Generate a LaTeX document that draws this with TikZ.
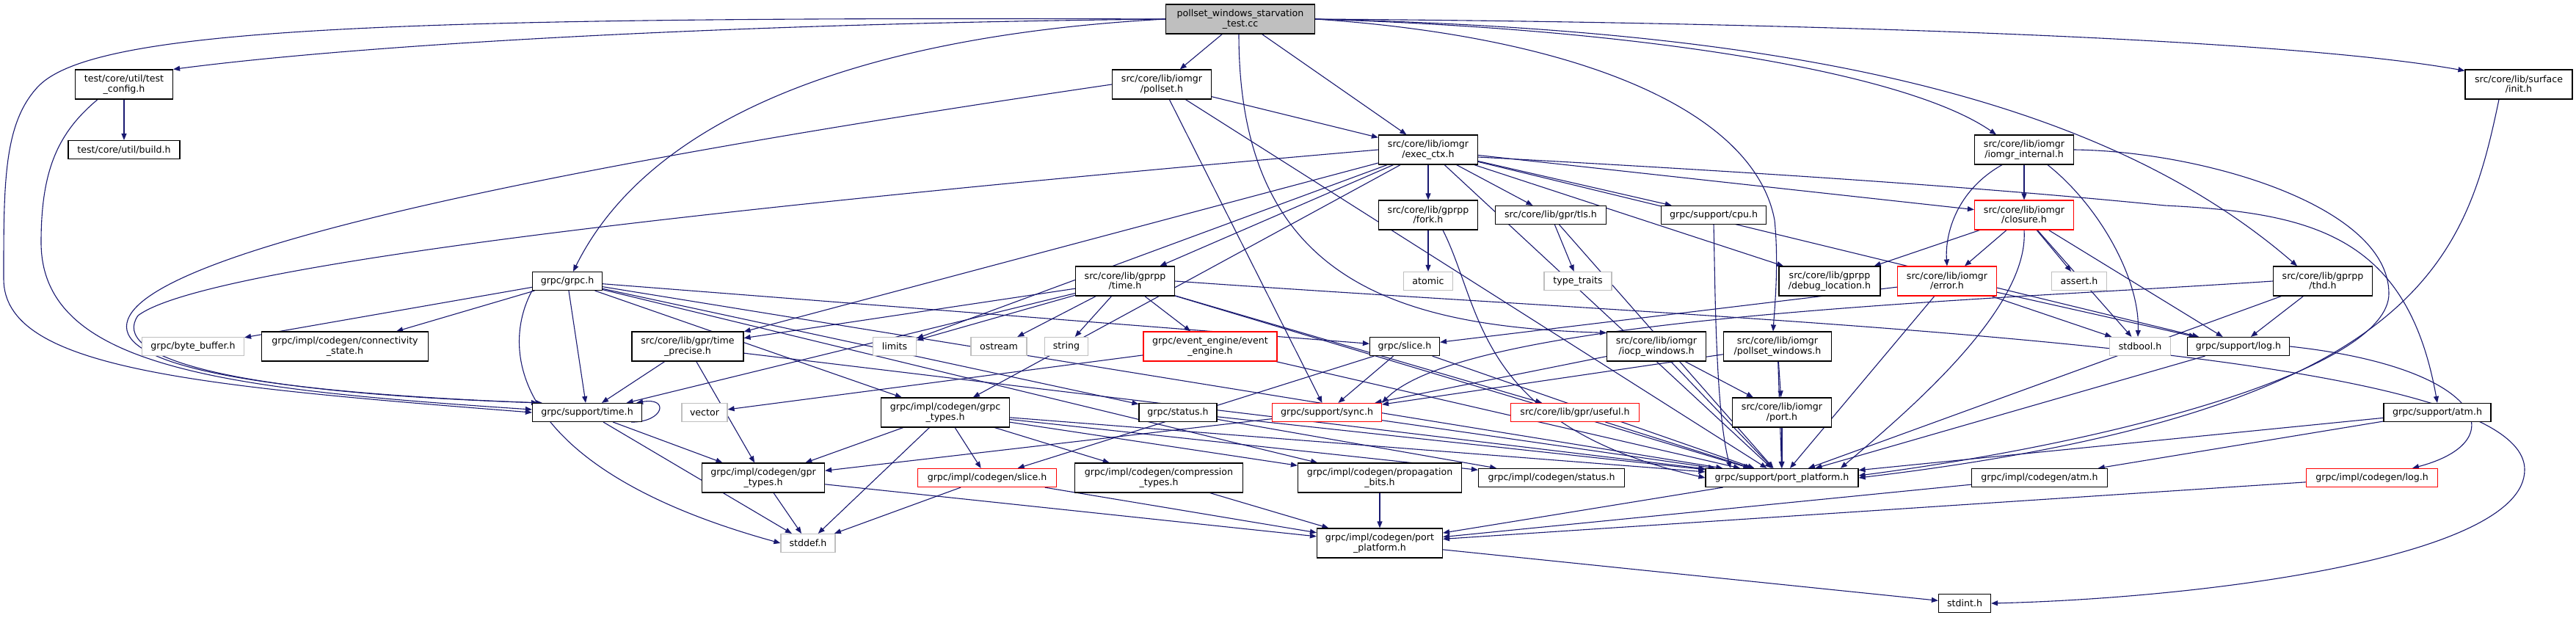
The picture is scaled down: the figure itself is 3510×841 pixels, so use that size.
\documentclass[tikz,border=0pt]{standalone}
\usepackage{fontspec}
\setmainfont{DejaVu Sans}
\usetikzlibrary{arrows.meta}
\definecolor{edgeblue}{HTML}{191970}
\definecolor{sysgray}{HTML}{BFBFBF}
\pgfdeclarelayer{bg}
\pgfsetlayers{bg,main}
\begin{document}
\begin{tikzpicture}[x=1pt,y=-1pt,
    hfile/.style={draw=black, line width=1.2pt, fill=white, minimum height=25pt,
      inner sep=1pt, align=center, font=\fontsize{12.6}{13.4}\selectfont},
    two/.style={minimum height=40pt},
    hred/.style={hfile, draw=red},
    hsys/.style={hfile, draw=sysgray},
    dep/.style={draw=edgeblue, line width=1.1pt, -{Triangle[length=9pt,width=7pt]}}]
    \useasboundingbox (0,0) rectangle (3510,841);

    % top rows
    \node[hfile, two, fill=sysgray, minimum width=203pt] (root) at (1690,26) {pollset\_windows\_starvation\\\_test.cc};
    \node[hfile, two, minimum width=133pt] (tcfg) at (169,115) {test/core/util/test\\\_config.h};
    \node[hfile, minimum width=152pt] (build) at (169,204) {test/core/util/build.h};
    \node[hfile, two, minimum width=135pt] (pollset) at (1583,115) {src/core/lib/iomgr\\/pollset.h};
    \node[hfile, two, minimum width=146pt] (init) at (3432,115) {src/core/lib/surface\\/init.h};
    \node[hfile, two, minimum width=135pt] (exec) at (1946,204) {src/core/lib/iomgr\\/exec\_ctx.h};
    \node[hfile, two, minimum width=135pt] (iomgrint) at (2758,204) {src/core/lib/iomgr\\/iomgr\_internal.h};
    \node[hfile, two, minimum width=135pt] (fork) at (1946,293) {src/core/lib/gprpp\\/fork.h};
    \node[hfile, minimum width=151pt] (tls) at (2113,293) {src/core/lib/gpr/tls.h};
    \node[hfile, minimum width=143pt] (cpu) at (2335,293) {grpc/support/cpu.h};
    \node[hred, two, minimum width=135pt] (closure) at (2758,293) {src/core/lib/iomgr\\/closure.h};

    % y = 383
    \node[hfile, minimum width=95pt] (grpch) at (773,383) {grpc/grpc.h};
    \node[hfile, two, minimum width=135pt] (gtime) at (1533,383) {src/core/lib/gprpp\\/time.h};
    \node[hsys, minimum width=67pt] (atomic) at (1946,383) {atomic};
    \node[hsys, minimum width=92pt] (ttraits) at (2150,383) {type\_traits};
    \node[hfile, two, minimum width=138pt] (dbgloc) at (2493,383) {src/core/lib/gprpp\\/debug\_location.h};
    \node[hred, two, minimum width=135pt] (error) at (2653,383) {src/core/lib/iomgr\\/error.h};
    \node[hsys, minimum width=75pt] (assert) at (2833,383) {assert.h};
    \node[hfile, two, minimum width=135pt] (thd) at (3165,383) {src/core/lib/gprpp\\/thd.h};

    % y = 472
    \node[hsys, minimum width=139pt] (bytebuf) at (263,472) {grpc/byte\_buffer.h};
    \node[hfile, two, minimum width=227pt] (connst) at (470,472) {grpc/impl/codegen/connectivity\\\_state.h};
    \node[hfile, two, minimum width=152pt] (tprec) at (937,472) {src/core/lib/gpr/time\\\_precise.h};
    \node[hsys, minimum width=59pt] (limits) at (1219,472) {limits};
    \node[hsys, minimum width=76pt] (ostream) at (1361,472) {ostream};
    \node[hsys, minimum width=59pt] (string) at (1453,472) {string};
    \node[hred, two, minimum width=182pt] (evtengine) at (1649,472) {grpc/event\_engine/event\\\_engine.h};
    \node[hfile, minimum width=95pt] (gslice) at (1914,472) {grpc/slice.h};
    \node[hfile, two, minimum width=135pt] (iocp) at (2257,472) {src/core/lib/iomgr\\/iocp\_windows.h};
    \node[hfile, two, minimum width=147pt] (pollwin) at (2422,472) {src/core/lib/iomgr\\/pollset\_windows.h};
    \node[hsys, minimum width=83pt] (stdbool) at (2916,472) {stdbool.h};
    \node[hfile, minimum width=139pt] (slog) at (3050,472) {grpc/support/log.h};

    % y = 562
    \node[hfile, minimum width=149pt] (stime) at (800,562) {grpc/support/time.h};
    \node[hsys, minimum width=62pt] (vector) at (960,562) {vector};
    \node[hfile, two, minimum width=175pt] (gtypes) at (1288,562) {grpc/impl/codegen/grpc\\\_types.h};
    \node[hfile, minimum width=106pt] (gstatus) at (1605,562) {grpc/status.h};
    \node[hred, minimum width=149pt] (ssync) at (1808,562) {grpc/support/sync.h};
    \node[hred, minimum width=175pt] (useful) at (2146,562) {src/core/lib/gpr/useful.h};
    \node[hfile, two, minimum width=135pt] (port) at (2428,562) {src/core/lib/iomgr\\/port.h};
    \node[hfile, minimum width=146pt] (satm) at (3321,562) {grpc/support/atm.h};

    % y = 651
    \node[hfile, two, minimum width=167pt] (gprtypes) at (1040,651) {grpc/impl/codegen/gpr\\\_types.h};
    \node[hred, minimum width=189pt] (cslice) at (1345,651) {grpc/impl/codegen/slice.h};
    \node[hfile, two, minimum width=229pt] (comptypes) at (1579,651) {grpc/impl/codegen/compression\\\_types.h};
    \node[hfile, two, minimum width=223pt] (propbits) at (1880,651) {grpc/impl/codegen/propagation\\\_bits.h};
    \node[hfile, minimum width=199pt] (cstatus) at (2114,651) {grpc/impl/codegen/status.h};
    \node[hfile, minimum width=208pt] (sport) at (2428,651) {grpc/support/port\_platform.h};
    \node[hfile, minimum width=185pt] (catm) at (2779,651) {grpc/impl/codegen/atm.h};
    \node[hred, minimum width=179pt] (clog) at (3232,651) {grpc/impl/codegen/log.h};

    % bottom
    \node[hsys, minimum width=74pt] (stddef) at (1101,740) {stddef.h};
    \node[hfile, two, minimum width=171pt] (cport) at (1880,740) {grpc/impl/codegen/port\\\_platform.h};
    \node[hfile, minimum width=71pt] (stdint) at (2677,822) {stdint.h};

    \begin{pgfonlayer}{bg}
    \foreach \a/\b in {root/pollset, root/exec, tcfg/build,
        pollset/exec, pollset/ssync, pollset/sport,
        grpch/bytebuf, grpch/connst, grpch/stime, grpch/gtypes, grpch/propbits,
        grpch/gslice, grpch/gstatus, grpch/sport,
        exec/gtime, exec/tprec, exec/fork, exec/tls, exec/cpu, exec/closure,
        exec/dbgloc, exec/gtypes, exec/slog, exec/sport, exec/limits,
        fork/atomic, tls/ttraits, tls/sport, iomgrint/closure, closure/error,
        closure/dbgloc, closure/assert, closure/stdbool, closure/slog,
        error/gslice, error/stdbool, error/slog, error/sport,
        thd/slog, thd/sport,
        gtime/stime, gtime/limits, gtime/ostream, gtime/string, gtime/evtengine,
        gtime/tprec, gtime/useful, gtime/sport,
        evtengine/vector, evtengine/sport,
        tprec/stime, tprec/gprtypes, tprec/sport, stime/gprtypes, stime/stddef,
        gslice/ssync, gslice/cslice, gslice/sport,
        iocp/ssync, iocp/port, iocp/sport, pollwin/ssync, pollwin/port, pollwin/sport,
        port/sport, useful/sport, gstatus/cstatus, gstatus/sport,
        ssync/gprtypes, ssync/sport, satm/catm, satm/sport, slog/sport,
        gtypes/gprtypes, gtypes/cslice, gtypes/stddef, gtypes/comptypes,
        gtypes/propbits, gtypes/cstatus, gtypes/sport,
        gprtypes/stddef, gprtypes/cport, cslice/stddef, cslice/cport,
        comptypes/cport, propbits/cport, sport/cport, catm/cport, clog/cport,
        cport/stdint}
      \draw[dep] (\a) -- (\b);

    % long curved ones
    \draw[dep] (root.west) .. controls (1000,32) and (500,60) .. (tcfg.north east);
    \draw[dep] (root.west) .. controls (500,22) and (120,40) .. (50,120)
      .. controls (5,170) and (5,250) .. (5,380) .. controls (5,500) and (250,525) .. (stime.west);
    \draw[dep] ([xshift=-36pt]tcfg.south) .. controls (80,180) and (56,230) .. (56,330)
      .. controls (56,500) and (300,530) .. ([yshift=4pt]stime.west);
    \draw[dep] (root.west) .. controls (1150,50) and (880,170) .. ([xshift=8pt]grpch.north);
    \draw[dep] (root.east) .. controls (2250,40) and (2600,100) .. ([xshift=-38pt]iomgrint.north);
    \draw[dep] (root.east) .. controls (2400,40) and (2850,120) .. ([xshift=-35pt]thd.north);
    \draw[dep] (root.east) .. controls (2400,30) and (3100,50) .. ([yshift=-2pt]init.north west);
    \draw[dep] (root.east) .. controls (2150,50) and (2390,150) .. (2418,300)
      .. controls (2424,360) and (2418,420) .. ([xshift=-6pt]pollwin.north);
    \draw[dep] ([xshift=-2pt]root.south) .. controls (1688,380) and (1900,445) .. ([yshift=-2pt]iocp.north west);
    \draw[dep] (pollset.west) .. controls (800,220) and (250,330) .. (180,425)
      .. controls (140,480) and (250,530) .. ([xshift=8pt]stime.north west);
    \draw[dep] (exec.west) .. controls (1000,280) and (280,360) .. (188,430)
      .. controls (150,485) and (300,535) .. ([xshift=14pt]stime.north west);
    \draw[dep] (grpch.south west) .. controls (680,480) and (700,640) .. (stddef.west);
    \draw[dep] ([xshift=-27pt]init.south) .. controls (3360,350) and (3300,560) .. (sport.east);
    \draw[dep] (iomgrint.east) .. controls (3000,206) and (3255,280) .. (3255,400)
      .. controls (3255,500) and (2900,600) .. ([yshift=3pt]sport.east);
    \draw[dep] ([yshift=-10pt]exec.east) .. controls (2400,235) and (2700,255) .. (2950,280)
      .. controls (3150,290) and (3280,320) .. (satm.north);
    \draw[dep] (slog.east) .. controls (3380,500) and (3430,600) .. ([xshift=55pt]clog.north);
    \draw[dep] (gtime.east) .. controls (2400,440) and (3440,470) .. (3440,640)
      .. controls (3440,760) and (3000,815) .. (stdint.east);
    \draw[dep] ([xshift=-15pt]stime.south east) .. controls +(45,0) and +(45,-8) .. ([xshift=-8pt]stime.north east);
    % routed round the boxes
    \draw[dep] ([xshift=-30pt]iomgrint.south) .. controls (2665,260) and (2650,320) .. (error.north);
    \draw[dep] ([xshift=32pt]iomgrint.south) .. controls (2860,280) and (2916,380) .. ([xshift=-3pt]stdbool.north);
    \draw[dep] (closure.south) .. controls (2765,420) and (2600,560) .. ([xshift=80pt]sport.north);
    \draw[dep] (thd.west) .. controls (2700,410) and (2000,430) .. (ssync.north east);
    \draw[dep] (cpu.south) .. controls (2337,380) and (2337,560) .. ([xshift=-70pt]sport.north);
    \draw[dep] ([xshift=20pt]fork.south) .. controls (2020,420) and (2010,580) .. (sport.west);
    \end{pgfonlayer}
\end{tikzpicture}
\end{document}
